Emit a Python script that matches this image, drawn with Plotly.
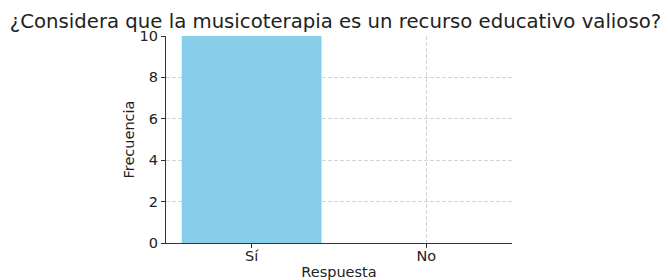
import plotly.graph_objects as go

categories = ["Sí", "No"]
values = [10, 0]
y_ticks = [0, 2, 4, 6, 8, 10]

# The page body adds an 8px offset, so the figure is sized 660x272.
W, H = 660, 272

fig = go.Figure()
fig.add_trace(go.Bar(x=categories, y=values, marker=dict(color="#87CEEB", line=dict(width=0)), width=0.8))

font = "DejaVu Sans, sans-serif"
fig.update_layout(
    width=W, height=H,
    margin=dict(l=158, r=156, t=28, b=37, autoexpand=False),
    paper_bgcolor="white", plot_bgcolor="white",
    showlegend=False,
    font=dict(family=font, size=14.5, color="#222"),
    title=dict(text="¿Considera que la musicoterapia es un recurso educativo valioso?",
               x=327.5 / W, xanchor="center", xref="container", y=1 - 13 / H, yref="container", yanchor="middle",
               font=dict(size=19.7, color="#222")),
)
fig.update_xaxes(
    range=[-0.49, 1.49], showline=True, linecolor="#333", linewidth=1.2,
    ticks="outside", ticklen=4, tickcolor="#333", automargin=False,
    ticklabelstandoff=-5,
    showgrid=True, gridcolor="#d4d4d4", griddash="4px,2px", gridwidth=0.7,
    title=dict(text="Respuesta", standoff=7, font=dict(size=14.5)),
    zeroline=False,
)
fig.update_yaxes(
    range=[0, 10], tickvals=y_ticks, showline=True, linecolor="#333", linewidth=1.2,
    ticks="outside", ticklen=4, tickcolor="#333", automargin=False,
    showgrid=True, gridcolor="#d4d4d4", griddash="4px,2px", gridwidth=0.7,
    title=dict(text="Frecuencia", standoff=1, font=dict(size=14.5)),
    zeroline=False,
)
fig.write_html("out.html")
